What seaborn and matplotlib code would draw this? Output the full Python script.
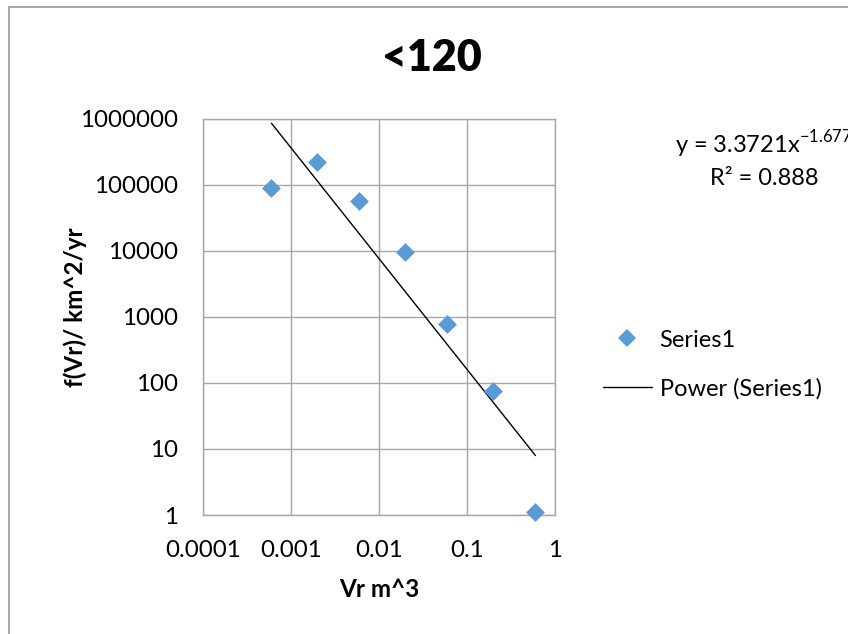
import numpy as np
import pandas as pd
import matplotlib
matplotlib.use("Agg")
import matplotlib.pyplot as plt
import seaborn as sns
from matplotlib.lines import Line2D
from matplotlib.patches import Rectangle

# values
vr = [0.0006, 0.002, 0.006, 0.02, 0.06, 0.2, 0.6]
freq = [90000, 223000, 56700, 9600, 770, 75, 1.12]

# Excel power trendline as printed on the chart
coef = 3.3721
expo = -1.677
r2 = 0.888

x_ticks = [0.0001, 0.001, 0.01, 0.1, 1]
x_labels = ["0.0001", "0.001", "0.01", "0.1", "1"]
y_ticks = [1, 10, 100, 1000, 10000, 100000, 1000000]
y_labels = ["1", "10", "100", "1000", "10000", "100000", "1000000"]

if __name__ == '__main__':
    df = pd.DataFrame({"vr": vr, "freq": freq})
    df["fit"] = coef * df.vr ** expo

    sns.set_theme(style="white")
    plt.rcParams['font.family'] = ['Lato', 'DejaVu Sans']
    plt.rcParams['mathtext.fontset'] = 'custom'
    plt.rcParams['mathtext.rm'] = 'Lato'
    plt.rcParams['text.color'] = 'black'
    plt.rcParams['axes.labelcolor'] = 'black'

    W, H = 848, 634
    fig = plt.figure(figsize=(W / 100, H / 100), dpi=100)
    fig.patch.set_facecolor("white")

    # chart area border (only top and left show in the reference)
    fig.patches.append(Rectangle((8.5 / W, -1), 2, 2 - 6.5 / H, transform=fig.transFigure,
                                 fill=False, edgecolor="#a6a6a6", linewidth=1.4))

    ax = fig.add_axes([203 / W, 1 - 515 / H, 352 / W, 396.3 / H])
    ax.set_xscale("log")
    ax.set_yscale("log")

    sns.lineplot(data=df, x="vr", y="fit", ax=ax, color="black", linewidth=1.0,
                 label="Power (Series1)", legend=False)
    sns.scatterplot(data=df, x="vr", y="freq", ax=ax, marker="D", s=92, color="#5b9bd5",
                    linewidth=0, label="Series1", legend=False, zorder=3, clip_on=False)

    ax.set_xlim(0.0001, 1)
    ax.set_ylim(1, 1000000)
    ax.set_xticks(x_ticks, x_labels)
    ax.set_yticks(y_ticks, y_labels)
    ax.minorticks_off()
    ax.tick_params(axis="both", length=0, labelsize=17.4, labelcolor="black")
    ax.tick_params(axis="x", pad=18)
    ax.tick_params(axis="y", pad=18)
    ax.grid(True, color="#a6a6a6", linewidth=1.0)
    for sp in ax.spines.values():
        sp.set_color("#a6a6a6")
        sp.set_linewidth(1.0)

    ax.set_xlabel("Vr m^3", fontsize=17.5, fontweight="bold")
    ax.xaxis.set_label_coords(0.5, (515 - 596.7) / 396.3)
    ax.xaxis.label.set_va("baseline")
    ax.set_ylabel("f(Vr)/ km^2/yr", fontsize=17.5, fontweight="bold")
    ax.yaxis.set_label_coords((75 - 203) / 352, (515 - 307) / 396.3)
    ax.yaxis.label.set_va("center")

    fig.text(432 / W, 1 - 70.7 / H, "<120", ha="center", va="baseline",
             fontsize=31, fontweight="heavy")

    fig.text(764 / W, 1 - 153 / H, r"y = 3.3721x$^{\mathregular{-1.677}}$",
             ha="center", va="baseline", fontsize=17)
    fig.text(764 / W, 1 - 185 / H, f"R² = {r2}", ha="center", va="baseline", fontsize=17)

    handles = [
        Line2D([], [], marker="D", linestyle="none", markersize=9.6,
               markerfacecolor="#5b9bd5", markeredgewidth=0),
        Line2D([], [], color="black", linewidth=1.0),
    ]
    fig.legend(handles, ["Series1", "Power (Series1)"], loc="center left",
               bbox_to_anchor=(603 / W, 1 - 364.5 / H), frameon=False,
               fontsize=17, borderpad=0, borderaxespad=0, handlelength=2.07,
               handletextpad=0.33, labelspacing=1.15)

    fig.savefig("out.png", dpi=100)
